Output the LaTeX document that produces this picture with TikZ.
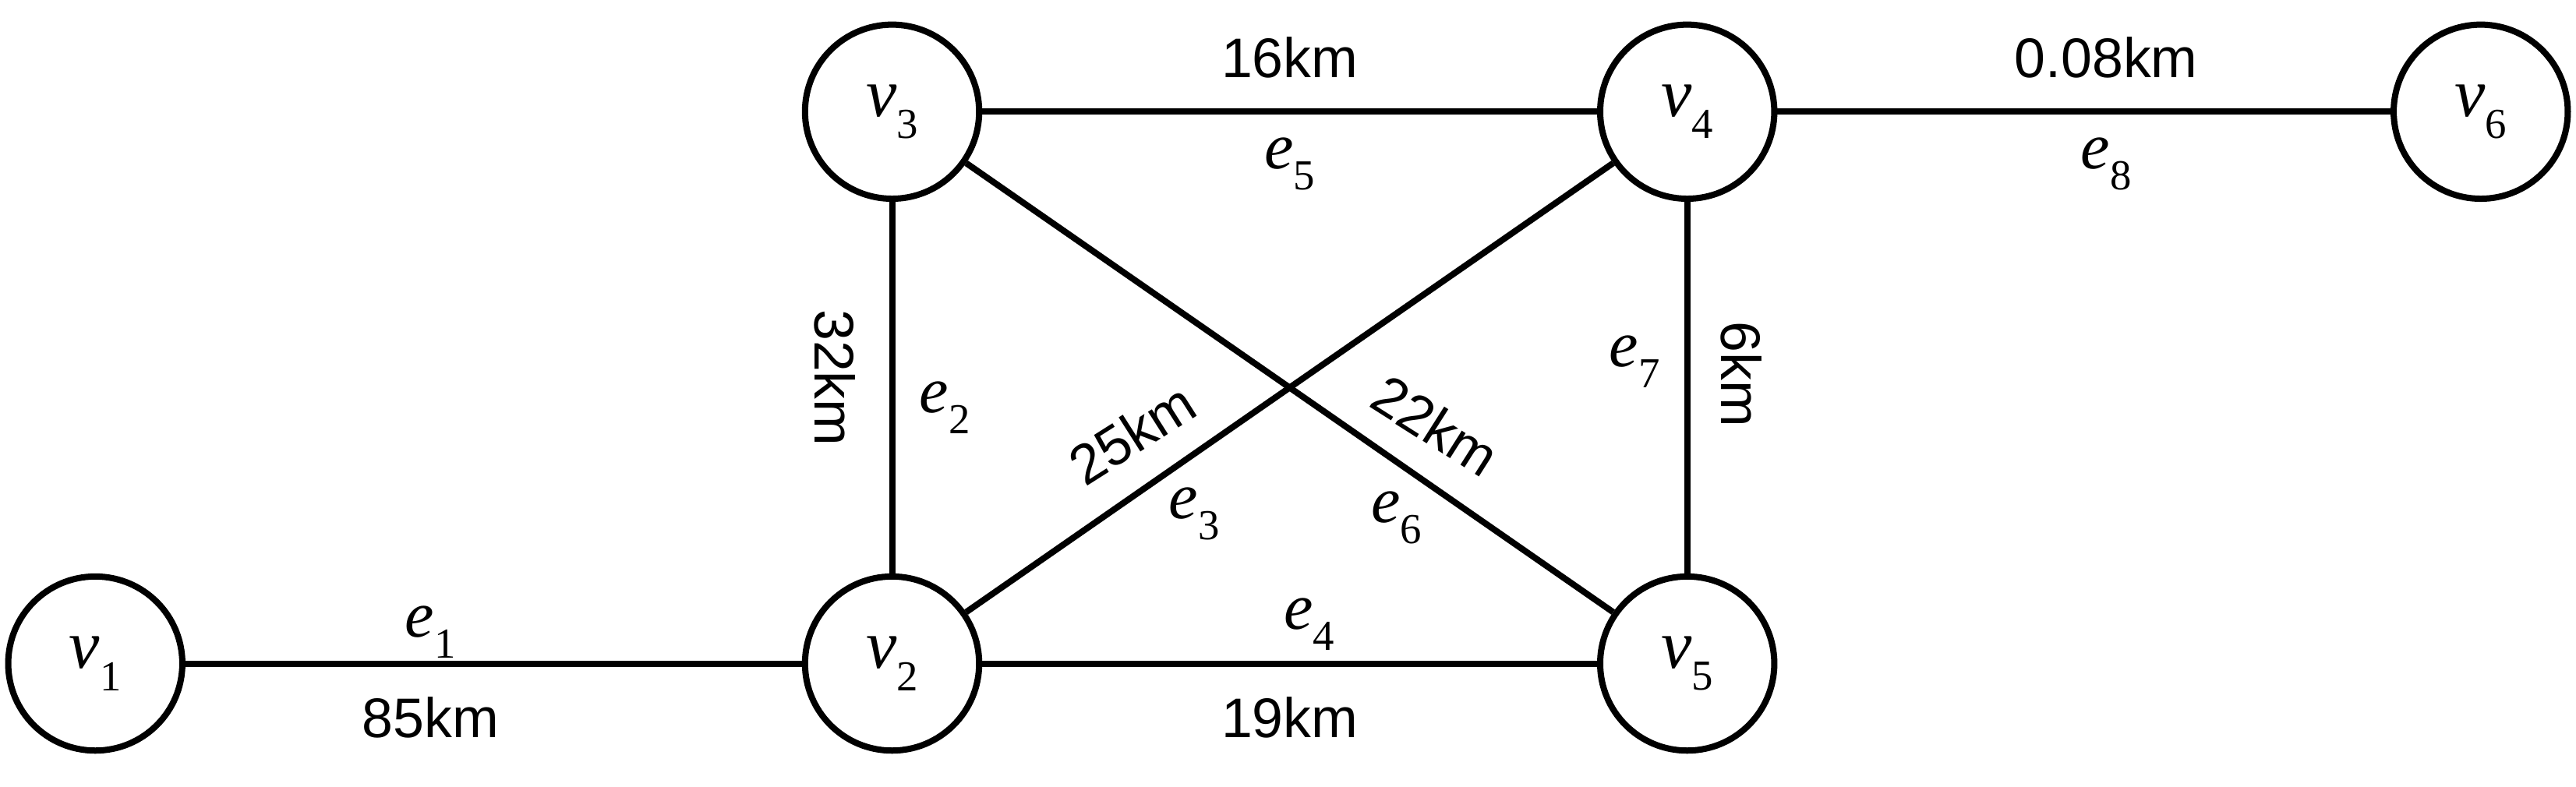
\documentclass[tikz,border=0pt]{standalone}
\usepackage{fontspec}
\setmainfont{Liberation Serif}
\setsansfont{Liberation Sans}
\newcommand{\lab}[2]{\textit{#1}\raisebox{-0.32em}{\fontsize{26}{28}\selectfont #2}}
\begin{document}
\begin{tikzpicture}[x=1pt,y=-1pt,
  vert/.style={circle,draw,line width=3.8pt,minimum size=106pt,inner sep=0pt,font=\fontsize{42}{46}\selectfont},
  edge/.style={line width=3.8pt},
  km/.style={font=\sffamily\fontsize{34}{38}\selectfont,inner sep=0pt},
  el/.style={font=\fontsize{40}{44}\selectfont,inner sep=0pt}]
\useasboundingbox (0,0) rectangle (1568,479);
\node[vert] (v1) at (58,404) {\lab{v}{1}};
\node[vert] (v2) at (543,404) {\lab{v}{2}};
\node[vert] (v3) at (543,68) {\lab{v}{3}};
\node[vert] (v4) at (1027,68) {\lab{v}{4}};
\node[vert] (v5) at (1027,404) {\lab{v}{5}};
\node[vert] (v6) at (1510,68) {\lab{v}{6}};
\draw[edge] (v1) -- (v2);
\draw[edge] (v2) -- (v3);
\draw[edge] (v2) -- (v4);
\draw[edge] (v2) -- (v5);
\draw[edge] (v3) -- (v4);
\draw[edge] (v3) -- (v5);
\draw[edge] (v4) -- (v5);
\draw[edge] (v4) -- (v6);
\node[el] (l1) at (262,385) {\lab{e}{1}};
\node[km] (k1) at (262,437) {85km};
\node[el] (l2) at (575,248) {\lab{e}{2}};
\node[km,rotate=-90] (k2) at (508,230) {32km};
\node[el] (l3) at (727,313) {\lab{e}{3}};
\node[km,rotate=32.4] (k3) at (689,264) {25km};
\node[el] (l4) at (797,380) {\lab{e}{4}};
\node[km] (k4) at (785,437) {19km};
\node[el] (l5) at (785,100) {\lab{e}{5}};
\node[km] (k5) at (785,35) {16km};
\node[el] (l6) at (850,315) {\lab{e}{6}};
\node[km,rotate=-32.4] (k6) at (874,259) {22km};
\node[el] (l7) at (995,220) {\lab{e}{7}};
\node[km,rotate=-90] (k7) at (1060,228) {6km};
\node[el] (l8) at (1282,100) {\lab{e}{8}};
\node[km] (k8) at (1282,35) {0.08km};
\end{tikzpicture}
\end{document}
